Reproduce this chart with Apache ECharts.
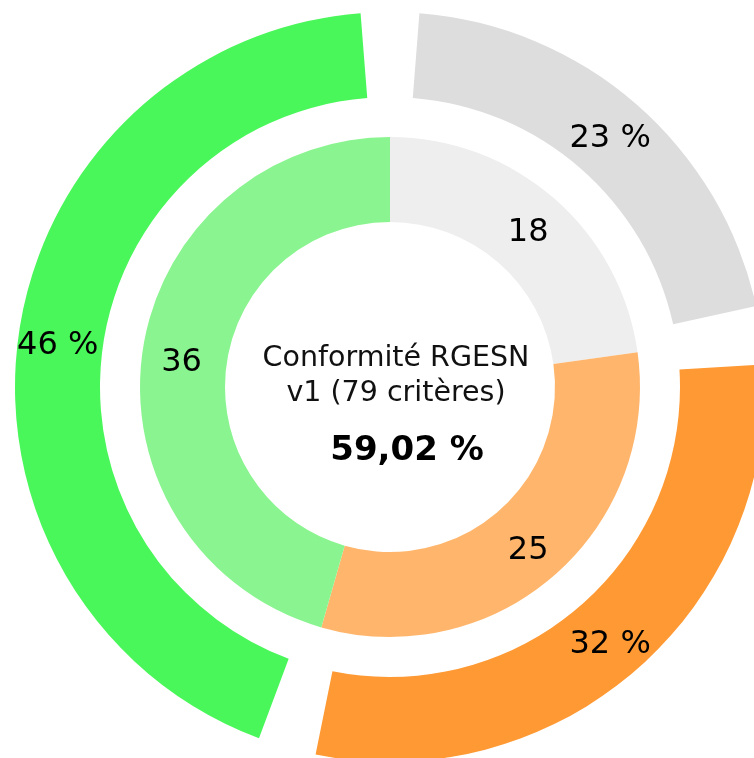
<!DOCTYPE html>
<html>
<head>
<meta charset="utf-8">
<script src="https://cdn.jsdelivr.net/npm/echarts@6/dist/echarts.min.js"></script>
<style>
html, body { margin: 0; padding: 0; background: #fff; }
#chart { width: 754px; height: 758px; }
</style>
</head>
<body>
<div id="chart"></div>
<script>
// données RGESN
var categories = ['Non applicable', 'Non conforme', 'Conforme'];
var counts = [18, 25, 36];
var innerColors = ['#eeeeee', '#ffb66c', '#8af590'];
var outerColors = ['#dddddd', '#ff9933', '#4af75a'];
var centerTitle = 'Conformité RGESN\nv1 (79 critères)';
var centerScore = '59,02 %';

var FONT = '"DejaVu Sans", sans-serif';

function buildData(colors) {
	var out = [];
	for (var i = 0; i < categories.length; i++) {
		out.push({ name: categories[i], value: counts[i], itemStyle: { color: colors[i] } });
	}
	return out;
}

// libellé décalé légèrement vers le bas
var labelRich = {
	v: { fontFamily: FONT, fontSize: 32, color: '#000', padding: [10, 0, 0, 0] }
};

var myChart = echarts.init(document.getElementById('chart'));
var option = {
	animation: false,
	title: {
		text: '{t|' + centerTitle.split('\n').join('}\n{t|') + '}\n{s|' + centerScore + '}',
		left: 391,
		top: 336,
		textAlign: 'center',
		textStyle: {
			rich: {
				t: { fontFamily: FONT, fontSize: 28.5, fontWeight: 'normal', color: '#111', lineHeight: 35, align: 'center' },
				s: { fontFamily: FONT, fontSize: 34, fontWeight: 'bold', color: '#000', lineHeight: 80, align: 'center', padding: [0, 0, 0, 22] }
			}
		}
	},
	series: [{
		type: 'pie',
		center: [390, 387],
		radius: [165, 250],
		startAngle: 90,
		clockwise: true,
		label: {
			position: 'inside',
			formatter: function(params) {
				return '{v|' + params.value + '}';
			},
			rich: labelRich
		},
		labelLine: { show: false },
		emphasis: { disabled: true },
		data: buildData(innerColors)
	}, {
		type: 'pie',
		center: [390, 387],
		radius: [290, 375],
		startAngle: 90,
		padAngle: 9,
		clockwise: true,
		label: {
			position: 'inside',
			formatter: function(params) {
				return '{v|' + Math.round(params.percent) + ' %}';
			},
			rich: labelRich
		},
		labelLine: { show: false },
		emphasis: { disabled: true },
		data: buildData(outerColors)
	}]
};
myChart.setOption(option);
</script>
</body>
</html>
